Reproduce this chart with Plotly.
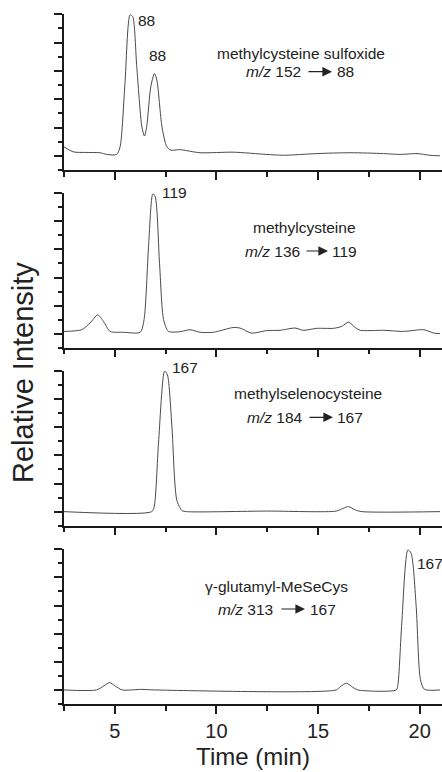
import plotly.graph_objects as go

# ---------------- data (time in min, relative intensity, max = 5) ----------------
t1 = [2.5, 2.96, 3.6, 4.27, 4.6, 5.09, 5.26, 5.5, 5.75, 5.88, 6.08, 6.33, 6.46, 6.57, 6.77, 6.95, 7.07, 7.32, 7.56, 7.76, 8.2, 9.19, 10.83, 12.47, 13.3, 14.94, 16.58, 18.22, 19.05, 19.87, 20.5, 21.0]
y1 = [0.32, 0.14, 0.12, 0.11, 0.05, 0.05, 0.32, 2.56, 4.98, 4.92, 3.15, 1.03, 0.70, 1.03, 2.44, 2.91, 2.68, 1.03, 0.32, 0.20, 0.22, 0.11, 0.13, 0.05, 0.02, 0.08, 0.11, 0.08, 0.05, 0.08, 0.02, 0.0]

t2 = [2.5, 3.37, 3.78, 4.16, 4.44, 4.77, 5.42, 6.25, 6.44, 6.66, 6.87, 6.99, 7.2, 7.4, 7.64, 8.21, 8.7, 9.19, 9.85, 10.83, 11.16, 11.73, 12.47, 13.13, 13.87, 14.28, 14.94, 15.76, 16.17, 16.5, 16.83, 17.08, 18.22, 19.2, 20.2, 20.7, 21.0]
y2 = [0.08, 0.14, 0.38, 0.67, 0.44, 0.08, 0.05, 0.05, 0.5, 3.10, 4.98, 4.88, 2.51, 0.5, 0.08, 0.07, 0.14, 0.05, 0.05, 0.22, 0.20, 0.02, 0.11, 0.12, 0.20, 0.12, 0.19, 0.19, 0.26, 0.41, 0.22, 0.12, 0.12, 0.08, 0.14, 0.02, 0.0]

t3 = [2.5, 6.82, 6.94, 7.15, 7.45, 7.59, 7.81, 8.05, 8.3, 8.54, 12.47, 15.9, 16.24, 16.5, 16.83, 17.16, 21.0]
y3 = [0.0, 0.0, 0.18, 2.43, 5.0, 4.86, 3.02, 0.41, 0.04, 0.0, 0.02, 0.02, 0.12, 0.18, 0.06, 0.0, 0.0]

t4 = [2.5, 4.1, 4.47, 4.75, 5.0, 5.36, 6.3, 6.97, 15.9, 16.1, 16.4, 16.7, 16.95, 18.85, 18.93, 19.12, 19.42, 19.58, 19.83, 20.04, 20.24, 21.0]
y4 = [0.0, 0.0, 0.15, 0.26, 0.15, 0.0, 0.02, 0.0, 0.0, 0.12, 0.24, 0.10, 0.0, 0.0, 0.18, 2.37, 4.98, 4.86, 2.96, 0.36, 0.02, 0.0]

compounds = ["methylcysteine sulfoxide", "methylcysteine", "methylselenocysteine", "\u03b3-glutamyl-MeSeCys"]
precursors = ["<i>m/z</i> 152", "<i>m/z</i> 136", "<i>m/z</i> 184", "<i>m/z</i> 313"]
products = ["88", "119", "167", "167"]
peak_labels = ["88", "88", "119", "167", "167"]

x_ticks = [5, 10, 15, 20]
x_tick_labels = ["5", "10", "15", "20"]

series = [(t1, y1), (t2, y2), (t3, y3), (t4, y4)]

# ---------------- layout helpers ----------------
W, H = 442, 772
ML, MR, MT, MB = 64, 0, 14, 68
PW, PH = W - ML - MR, H - MT - MB


def px2x(px):
    return (px - ML) / PW


def px2y(py):
    return (H - MB - py) / PH


panel_px = [(14.3, 170.0), (193.3, 347.7), (371.0, 525.7), (549.3, 704.0)]
FONT = "Liberation Sans, Arial, Helvetica, sans-serif"
AX = "#1a1a1a"

fig = go.Figure()
for i, (tx, ty) in enumerate(series):
    n = i + 1
    fig.add_trace(go.Scatter(
        x=tx, y=ty, mode="lines",
        line=dict(color="#4a4a4a", width=1, shape="spline", smoothing=0.7),
        xaxis="x" if n == 1 else f"x{n}", yaxis="y" if n == 1 else f"y{n}",
        showlegend=False, hoverinfo="skip", cliponaxis=False))

layout = dict(
    width=W, height=H,
    margin=dict(l=ML, r=MR, t=MT, b=MB, pad=0, autoexpand=False),
    paper_bgcolor="white", plot_bgcolor="white",
    font=dict(family=FONT, color="#222"),
    showlegend=False,
)
for i, (top, bot) in enumerate(panel_px):
    n = i + 1
    xa = "xaxis" if n == 1 else f"xaxis{n}"
    ya = "yaxis" if n == 1 else f"yaxis{n}"
    yname = "y" if n == 1 else f"y{n}"
    xname = "x" if n == 1 else f"x{n}"
    xd = dict(
        domain=[0, 1], anchor=yname, range=[2.5, 21.1], automargin=False,
        tickmode="array", tickvals=x_ticks, ticktext=x_tick_labels,
        showticklabels=(n == 4), ticks="outside", ticklen=8, tickwidth=1.5, tickcolor=AX,
        minor=dict(dtick=2.5, tick0=0, ticks="outside", ticklen=5, tickwidth=1.5, tickcolor=AX),
        showline=True, linecolor=AX, linewidth=1.5, showgrid=False, zeroline=False,
        tickfont=dict(size=20, family=FONT, color="#222"),
    )
    if n == 4:
        xd["title"] = dict(text="Time (min)", font=dict(size=24, family=FONT, color="#222"), standoff=7)
    layout[xa] = xd
    layout[ya] = dict(
        domain=[px2y(bot), px2y(top)], anchor=xname, range=[-0.5, 5], automargin=False,
        tick0=0, dtick=1, showticklabels=False,
        ticks="outside", ticklen=8, tickwidth=1.5, tickcolor=AX,
        minor=dict(dtick=0.5, tick0=0, ticks="outside", ticklen=4, tickwidth=1.5, tickcolor=AX),
        showline=True, linecolor=AX, linewidth=1.5, showgrid=False, zeroline=False,
    )
fig.update_layout(**layout)

ann = []


def txt(text, px, py, xanchor="center", size=15.5):
    ann.append(dict(text=text, x=px2x(px), y=px2y(py), xref="paper", yref="paper",
                    xanchor=xanchor, yanchor="middle", showarrow=False,
                    font=dict(size=size, family=FONT, color="#222")))


# compound names (line 1)
name_pos = [(301, 53.3), (304, 227.7), (308, 393.3), (276, 586)]
# m/z lines: (precursor right edge, arrow tail, arrow head, product left edge, y)
mz_pos = [(303, 307, 332, 335, 71.7), (302, 305, 328, 330, 251), (305, 308, 333, 335, 417.3), (275, 280, 305, 308, 609)]
for i in range(4):
    nx, ny = name_pos[i]
    txt(compounds[i], nx, ny)
    pr, tail, head, pl, my = mz_pos[i]
    txt(precursors[i], pr, my, "right")
    txt(products[i], pl, my, "left")
    ann.append(dict(x=px2x(head), y=px2y(my), ax=tail - head, ay=0,
                    xref="paper", yref="paper", axref="pixel", ayref="pixel",
                    text="", showarrow=True, arrowhead=2, arrowsize=1.6, arrowwidth=1.2,
                    arrowcolor="#222"))

# peak labels
peak_pos = [(146.3, 20.5, "center"), (157, 55.5, "center"), (174.5, 192, "center"), (185.3, 367, "center"), (415, 563.7, "left")]
for lab, (px, py, anc) in zip(peak_labels, peak_pos):
    txt(lab, px, py, anc)

# y title
ann.append(dict(text="Relative Intensity", x=px2x(23), y=px2y(373), xref="paper", yref="paper",
                xanchor="center", yanchor="middle", textangle=-90, showarrow=False,
                font=dict(size=29, family=FONT, color="#222")))

fig.update_layout(annotations=ann)
fig.write_html("out.html", config={"displayModeBar": False},
               post_script="document.body.style.margin='0';document.body.style.overflow='hidden';")
